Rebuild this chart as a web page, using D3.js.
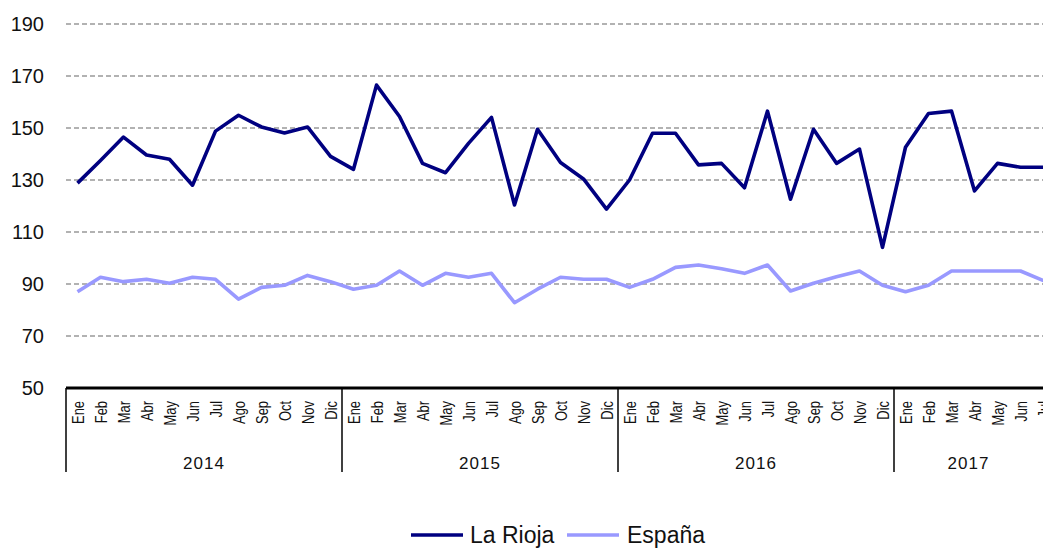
<!DOCTYPE html>
<html>
<head>
<meta charset="utf-8">
<script src="https://cdn.jsdelivr.net/npm/d3@7"></script>
<style>
  body { margin: 0; background: #fff; }
  svg { display: block; font-family: "Liberation Sans", Arial, sans-serif; }
</style>
</head>
<body>
<svg id="chart" width="1043" height="549"></svg>
<script>
const years = ["2014", "2015", "2016", "2017"];
const monthNames = ["Ene", "Feb", "Mar", "Abr", "May", "Jun", "Jul", "Ago", "Sep", "Oct", "Nov", "Dic"];
const monthsPerYear = [12, 12, 12, 7];

const laRioja = [
  128.8, 137.5, 146.5, 139.6, 138, 128, 148.8, 154.9, 150.4, 148.1, 150.4, 139.1,
  134.1, 166.5, 154.4, 136.4, 132.8, 144.1, 154.1, 120.4, 149.5, 136.7, 130.4, 118.8,
  130, 148, 148, 135.8, 136.4, 127, 156.5, 122.6, 149.5, 136.4, 141.9, 104.1,
  142.6, 155.6, 156.5, 125.8, 136.4, 134.9, 134.9
];
const espana = [
  87, 92.6, 90.9, 91.8, 90.3, 92.6, 91.8, 84.2, 88.7, 89.5, 93.3, 90.9,
  88, 89.5, 95, 89.5, 94.1, 92.6, 94.1, 82.8, 88, 92.6, 91.8, 91.8,
  88.7, 91.8, 96.4, 97.3, 95.9, 94.1, 97.3, 87.3, 90.3, 92.8, 95, 89.5,
  87, 89.5, 95, 95, 95, 95, 91.3
];
const yTicks = [50, 70, 90, 110, 130, 150, 170, 190];

// build category list: year + month
const cats = [];
years.forEach((yr, i) => {
  for (let m = 0; m < monthsPerYear[i]; m++) cats.push({ key: yr + "-" + m, year: yr, month: monthNames[m] });
});

const series = [
  { name: "La Rioja", values: laRioja, color: "#000080" },
  { name: "España", values: espana, color: "#9999ff" }
];

const svg = d3.select("#chart");
const plotLeft = 66, bandW = 23;
const plotTop = 24, plotBottom = 388;

const x = d3.scaleBand()
  .domain(cats.map(d => d.key))
  .range([plotLeft, plotLeft + bandW * cats.length])
  .paddingInner(0).paddingOuter(0);

const y = d3.scaleLinear().domain([50, 190]).range([plotBottom, plotTop]);

// gridlines
svg.append("g")
  .selectAll("line")
  .data(yTicks.filter(t => t > 50))
  .enter().append("line")
  .attr("x1", plotLeft).attr("x2", 1043)
  .attr("y1", d => y(d)).attr("y2", d => y(d))
  .attr("stroke", "#999")
  .attr("stroke-width", 1.6)
  .attr("stroke-dasharray", "5,3");

// y labels
svg.append("g")
  .selectAll("text")
  .data(yTicks)
  .enter().append("text")
  .attr("x", 44)
  .attr("y", d => y(d))
  .attr("dy", "0.35em")
  .attr("text-anchor", "end")
  .attr("font-size", 20)
  .attr("fill", "#111")
  .text(d => d);

// lines
const line = d3.line()
  .x((d, i) => x(cats[i].key) + x.bandwidth() / 2)
  .y(d => y(d));

svg.append("g")
  .selectAll("path")
  .data(series)
  .enter().append("path")
  .attr("d", d => line(d.values))
  .attr("fill", "none")
  .attr("stroke", d => d.color)
  .attr("stroke-width", 3.6)
  .attr("stroke-linejoin", "round");

// x axis base line
svg.append("line")
  .attr("x1", plotLeft).attr("x2", 1043)
  .attr("y1", plotBottom).attr("y2", plotBottom)
  .attr("stroke", "#000").attr("stroke-width", 3);

// month labels
svg.append("g")
  .selectAll("text")
  .data(cats)
  .enter().append("text")
  .attr("transform", d => `translate(${x(d.key) + x.bandwidth() / 2 + 6.5},401) rotate(-90) scale(0.76,1)`)
  .attr("text-anchor", "end")
  .attr("font-size", 17)
  .attr("fill", "#111")
  .text(d => d.month);

// year separators and labels
let start = 0;
const yearInfo = years.map((yr, i) => {
  const s = start;
  start += monthsPerYear[i];
  return { year: yr, x0: x(cats[s].key), x1: x(cats[s].key) + bandW * 12 };
});

svg.append("g")
  .selectAll("line")
  .data(yearInfo)
  .enter().append("line")
  .attr("x1", d => d.x0).attr("x2", d => d.x0)
  .attr("y1", plotBottom).attr("y2", 472)
  .attr("stroke", "#000").attr("stroke-width", 1.5);

svg.append("g")
  .selectAll("text")
  .data(yearInfo)
  .enter().append("text")
  .attr("x", (d, i) => i < 3 ? (d.x0 + d.x1) / 2 : (d.x0 + 1043) / 2)
  .attr("y", 469)
  .attr("text-anchor", "middle")
  .attr("font-size", 17)
  .attr("letter-spacing", 1)
  .attr("fill", "#111")
  .text(d => d.year);

// legend
const legend = svg.append("g");
const legendItems = [
  { s: series[0], lx: 411, tx: 470 },
  { s: series[1], lx: 567, tx: 627 }
];
legendItems.forEach(it => {
  legend.append("line")
    .attr("x1", it.lx).attr("x2", it.lx + 52)
    .attr("y1", 535).attr("y2", 535)
    .attr("stroke", it.s.color).attr("stroke-width", 3.6);
  legend.append("text")
    .attr("x", it.tx).attr("y", 543)
    .attr("font-size", 23)
    .attr("fill", "#111")
    .text(it.s.name);
});
</script>
</body>
</html>
